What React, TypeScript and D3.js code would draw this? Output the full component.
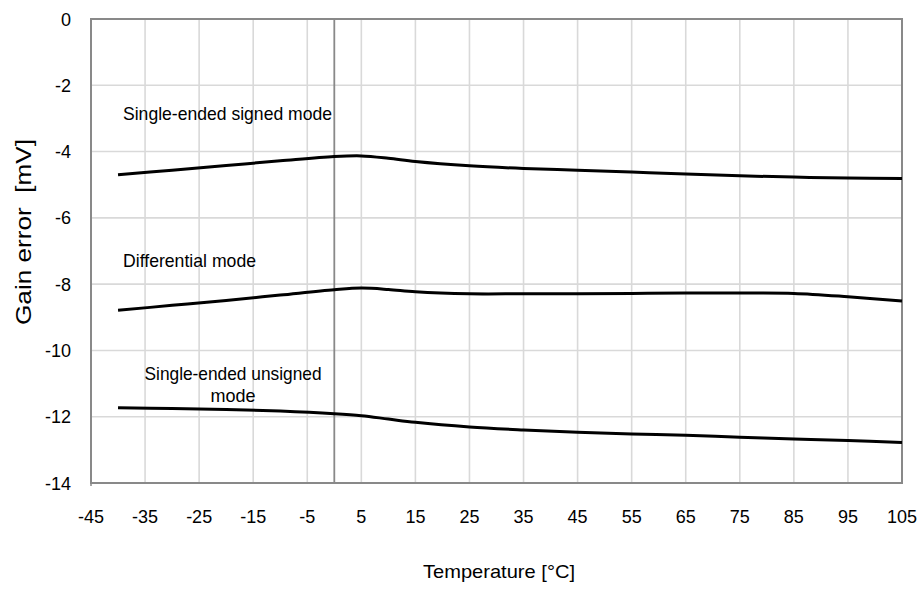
import React from "react";
import * as d3 from "d3";

const temps = [-40, -30, -20, -10, 0, 5, 10, 15, 25, 35, 45, 55, 65, 75, 85, 95, 105];
const signedMode = [-4.70, -4.56, -4.42, -4.28, -4.15, -4.13, -4.20, -4.30, -4.43, -4.51, -4.56, -4.62, -4.68, -4.73, -4.77, -4.80, -4.81];
const differentialMode = [-8.79, -8.64, -8.49, -8.33, -8.17, -8.12, -8.16, -8.23, -8.29, -8.29, -8.29, -8.28, -8.27, -8.27, -8.28, -8.38, -8.51];
const unsignedMode = [-11.73, -11.75, -11.78, -11.83, -11.91, -11.97, -12.07, -12.17, -12.31, -12.40, -12.47, -12.52, -12.56, -12.62, -12.67, -12.72, -12.78];

const xTicks = [-45, -35, -25, -15, -5, 5, 15, 25, 35, 45, 55, 65, 75, 85, 95, 105];
const yTicks = [0, -2, -4, -6, -8, -10, -12, -14];

const seriesLabels = [
  { lines: ["Single-ended signed mode"], x: 123, y: 119.5, anchor: "start", lens: [209] },
  { lines: ["Differential mode"], x: 123, y: 266.5, anchor: "start", lens: [133] },
  { lines: ["Single-ended unsigned", "mode"], x: 233, y: 380, anchor: "middle", lens: [177, 45] },
];

export default function App() {
  const W = 921, H = 592;
  const left = 91, right = 902, top = 19, bottom = 483;
  const x = d3.scaleLinear().domain([-45, 105]).range([left, right]);
  const y = d3.scaleLinear().domain([0, -14]).range([top, bottom]);
  const line = d3
    .line<[number, number]>()
    .x((d) => x(d[0]))
    .y((d) => y(d[1]))
    .curve(d3.curveCatmullRom.alpha(0.5));
  const series = [signedMode, differentialMode, unsignedMode];
  const font = "'Liberation Sans', Arial, sans-serif";

  return (
    <svg
      width={W}
      height={H}
      style={{ position: "absolute", left: 0, top: 0, background: "#fff" }}
      fontFamily={font}
    >
      {xTicks.slice(1, -1).map((t) => (
        <line key={"vx" + t} x1={x(t)} x2={x(t)} y1={top} y2={bottom} stroke="#d9d9d9" strokeWidth={1.6} />
      ))}
      {yTicks.slice(1, -1).map((t) => (
        <line key={"hy" + t} x1={left} x2={right} y1={y(t)} y2={y(t)} stroke="#d9d9d9" strokeWidth={1.6} />
      ))}
      <line x1={x(0)} x2={x(0)} y1={top} y2={bottom} stroke="#898989" strokeWidth={1.8} />
      <rect x={left} y={top} width={right - left} height={bottom - top} fill="none" stroke="#898989" strokeWidth={2} />
      <line x1={left} x2={left} y1={bottom} y2={bottom + 3} stroke="#898989" strokeWidth={1.5} />

      {series.map((vals, i) => (
        <path
          key={"s" + i}
          d={line(temps.map((t, j) => [t, vals[j]] as [number, number])) || ""}
          fill="none"
          stroke="#000"
          strokeWidth={3}
        />
      ))}

      {yTicks.map((t) => (
        <text key={"yl" + t} x={71} y={y(t) + 6.5} textAnchor="end" fontSize={18} fill="#000">
          {t}
        </text>
      ))}
      {xTicks.map((t) => (
        <text key={"xl" + t} x={x(t)} y={523} textAnchor="middle" fontSize={18} fill="#000">
          {t}
        </text>
      ))}

      <text x={499} y={578} textAnchor="middle" fontSize={19} fill="#000" textLength={152} lengthAdjust="spacingAndGlyphs">
        Temperature [°C]
      </text>
      <text
        transform={`translate(31,232) rotate(-90)`}
        textAnchor="middle"
        fontSize={22}
        fill="#000"
        textLength={186}
        lengthAdjust="spacingAndGlyphs"
        style={{ whiteSpace: "pre" }}
      >
        {"Gain error  [mV]"}
      </text>

      {seriesLabels.map((l, i) =>
        l.lines.map((s, k) => (
          <text
            key={"lab" + i + "-" + k}
            x={l.x}
            y={l.y + k * 22}
            textAnchor={l.anchor as any}
            fontSize={18.5}
            fill="#000"
            textLength={l.lens[k]}
            lengthAdjust="spacingAndGlyphs"
          >
            {s}
          </text>
        ))
      )}
    </svg>
  );
}
